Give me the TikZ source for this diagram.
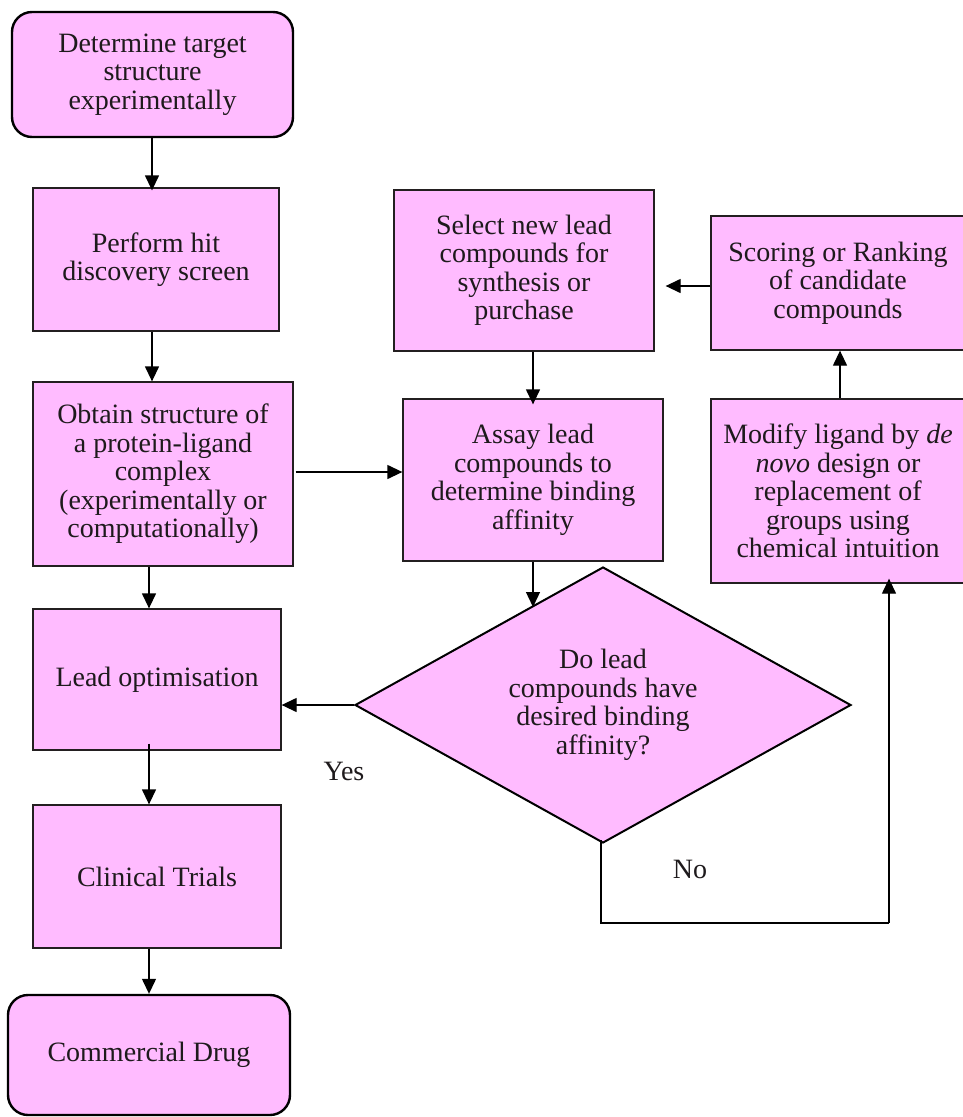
\documentclass[tikz,border=0pt]{standalone}
\usepackage{fontspec}
\setmainfont{Liberation Serif}
\usetikzlibrary{arrows.meta,shapes.geometric}
\definecolor{boxfill}{RGB}{255,187,255}
\definecolor{edge}{RGB}{35,31,32}
\definecolor{ink}{RGB}{30,26,28}
\begin{document}
\begin{tikzpicture}[x=1pt,y=-1pt,
  every node/.style={text=ink,font=\rmfamily\fontsize{28}{28.5}\selectfont,align=center,inner sep=0pt},
  stepbox/.style={draw=edge,line width=1.3pt,fill=boxfill,rectangle},
  endbox/.style={draw=black,line width=2.4pt,fill=boxfill,rectangle,rounded corners=20pt},
  decision/.style={draw=black,line width=2pt,fill=boxfill,diamond,aspect=1.8},
  arr/.style={draw=black,line width=1.3pt,-{Triangle[length=15pt,width=14pt]}},
  link/.style={draw=black,line width=1.3pt}]
\useasboundingbox (0,0) rectangle (963,1117);

% left column
\node[endbox,minimum width=281,minimum height=125] (b1) at (152.5,74.5)
  {Determine target\\structure\\experimentally};
\node[stepbox,minimum width=246,minimum height=143] (b2) at (156,259.5)
  {Perform hit\\discovery screen};
\node[stepbox,minimum width=260,minimum height=184] (b3) at (163,474)
  {Obtain structure of\\a protein-ligand\\complex\\(experimentally or\\computationally)};
\node[stepbox,minimum width=248,minimum height=141] (b4) at (157,679.5)
  {Lead optimisation};
\node[stepbox,minimum width=248,minimum height=143] (b5) at (157,876.5)
  {Clinical Trials};
\node[endbox,minimum width=282,minimum height=120] (b6) at (149,1055)
  {Commercial Drug};

% design loop
\node[stepbox,minimum width=260,minimum height=161] (sel) at (524,270.5)
  {Select new lead\\compounds for\\synthesis or\\purchase};
\node[stepbox,minimum width=254,minimum height=134] (score) at (838,283)
  {Scoring or Ranking\\of candidate\\compounds};
\node[stepbox,minimum width=260,minimum height=162] (assay) at (533,480)
  {Assay lead\\compounds to\\determine binding\\affinity};
\node[stepbox,minimum width=254,minimum height=184] (modify) at (838,491)
  {Modify ligand by \textit{de}\\\textit{novo} design or\\replacement of\\groups using\\chemical intuition};
\node[decision,minimum width=496,minimum height=276] (dec) at (603,705)
  {Do lead\\compounds have\\desired binding\\affinity?};

\node (yes) at (344,771) {Yes};
\node (no) at (690,869) {No};

% connector columns and turning points
\coordinate (colA) at (152,0);
\coordinate (colB) at (149,0);
\coordinate (colC) at (533,0);
\coordinate (colD) at (840,0);
\coordinate (rowA) at (0,286);
\coordinate (rowB) at (0,472);
\coordinate (rowC) at (0,607);
\coordinate (noDown) at (601,923);
\coordinate (noRight) at (889,923);

\draw[arr] (b1.south -| colA) -- ([yshift=-3]b2.north -| colA);
\draw[arr] (b2.south -| colA) -- (b3.north -| colA);
\draw[arr] (b3.south -| colB) -- (b4.north -| colB);
\draw[arr] ([yshift=7]b4.south -| colB) -- (b5.north -| colB);
\draw[arr] (b5.south -| colB) -- (b6.north -| colB);

\draw[arr] ([xshift=2]b3.east |- rowB) -- (assay.west |- rowB);
\draw[arr] (sel.south -| colC) -- ([yshift=-6]assay.north -| colC);
\draw[arr] (score.west |- rowA) -- ([xshift=11]sel.east |- rowA);
\draw[arr] (modify.north -| colD) -- (score.south -| colD);
\draw[arr] (assay.south -| colC) -- (colC |- rowC);
\draw[arr] (dec.west) -- (b4.east |- dec.west);

\draw[link] ([yshift=4]dec.south -| noDown) -- (noDown) -- (noRight);
\draw[arr] (noRight) -- ([yshift=5]modify.south -| noRight);
\end{tikzpicture}
\end{document}
